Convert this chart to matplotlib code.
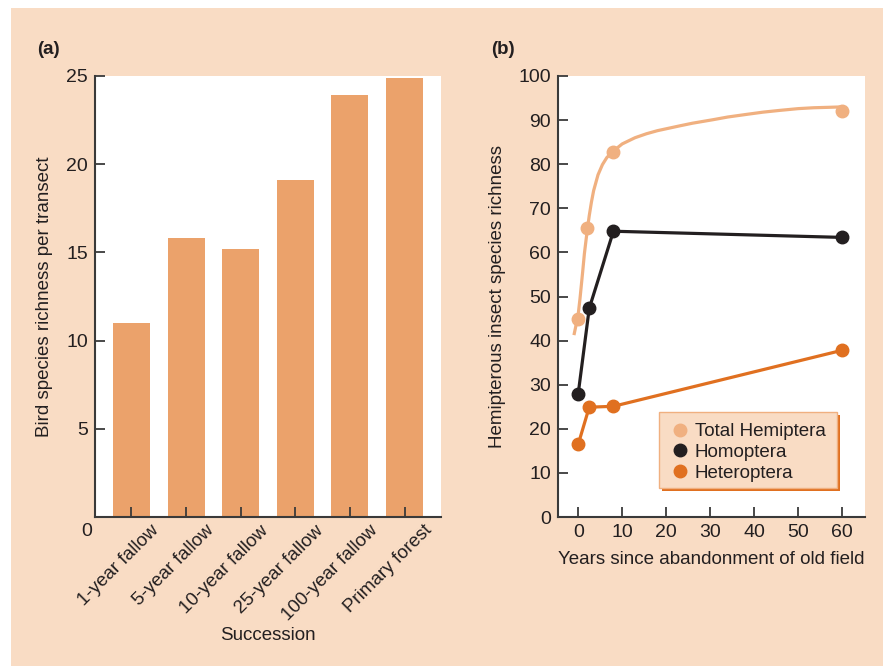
import matplotlib.pyplot as plt
import matplotlib.transforms as mtransforms
from matplotlib.lines import Line2D
from matplotlib.patches import Rectangle

# (a) bird species richness
succession = ["1-year fallow", "5-year fallow", "10-year fallow",
              "25-year fallow", "100-year fallow", "Primary forest"]
bird_richness = [11.0, 15.8, 15.2, 19.1, 23.9, 24.9]

# (b) hemipterous insects
years_total = [0, 2, 8, 60]
total_hemiptera = [44.8, 65.6, 82.8, 92.1]
# fitted curve for total hemiptera
curve_years = [-0.9, -0.5, 0.0, 0.4, 1.0, 1.4, 1.8, 2.1, 2.5, 3.0, 3.5, 4.5,
               5.5, 6.5, 8.0, 10.0, 12.9, 15.5, 18.0, 23.1, 26.0, 30.7, 34.0,
               38.3, 42.0, 45.8, 50.0, 53.5, 57.0, 60.1]
curve_total = [41.6, 43.5, 46.0, 49.5, 55.5, 59.7, 63.0, 65.4, 68.3, 71.4,
               74.0, 77.6, 79.9, 81.5, 83.0, 84.6, 86.0, 86.9, 87.6, 88.7,
               89.3, 90.1, 90.7, 91.3, 91.8, 92.2, 92.6, 92.8, 92.9, 93.0]
years = [0, 2.5, 8, 60]
homoptera = [28.0, 47.3, 64.8, 63.4]
heteroptera = [16.5, 24.9, 25.1, 37.8]

BG = "#F9DCC4"
BAR = "#EBA26B"
LIGHT = "#F0B080"
DARK = "#231F20"
ORANGE = "#E07020"
SPINE = "#3A3A3A"

FS = 13.5

plt.rcParams["font.family"] = ["Liberation Sans", "DejaVu Sans"]
plt.rcParams["text.color"] = DARK
plt.rcParams["axes.labelcolor"] = DARK
plt.rcParams["xtick.color"] = SPINE
plt.rcParams["ytick.color"] = SPINE
plt.rcParams["xtick.labelcolor"] = DARK
plt.rcParams["ytick.labelcolor"] = DARK

W, H = 883, 666
fig = plt.figure(figsize=(W / 100, H / 100), dpi=100, facecolor="white")
fig.patches.append(Rectangle((11 / W, 0), 1, 1 - 8 / H, transform=fig.transFigure,
                             facecolor=BG, edgecolor="none", zorder=-10))


def style(ax):
    for s in ["top", "right"]:
        ax.spines[s].set_visible(False)
    for s in ["left", "bottom"]:
        ax.spines[s].set_color(SPINE)
        ax.spines[s].set_linewidth(1.5)
    ax.tick_params(direction="in", length=7.5, width=1.3, pad=5, labelsize=14)


# ---- panel (a)
ax1 = fig.add_axes([95 / W, 1 - 517 / H, 346 / W, 441 / H])
style(ax1)
xs = list(range(len(succession)))
ax1.bar(xs, bird_richness, width=0.68, color=BAR)
ax1.set_xlim(-0.668, 5.668)
ax1.set_ylim(0, 25)
ax1.set_yticks([0, 5, 10, 15, 20, 25])
ax1.set_yticklabels(["", "5", "10", "15", "20", "25"])
ax1.text(-0.023, -0.034, "0", transform=ax1.transAxes, ha="center", va="center", fontsize=14)
ax1.set_xticks(xs)
ax1.set_xticklabels(succession, rotation=45, ha="right", va="center",
                    rotation_mode="anchor", fontsize=FS)
off = mtransforms.ScaledTranslation(0.25, -0.04, fig.dpi_scale_trans)
for lab in ax1.get_xticklabels():
    lab.set_transform(lab.get_transform() + off)
ax1.set_ylabel("Bird species richness per transect", fontsize=FS)
ax1.yaxis.label.set_va("center")
ax1.yaxis.set_label_coords((45 - 95) / 346, 0.5)
ax1.set_xlabel("Succession", fontsize=FS)
ax1.xaxis.label.set_va("center")
ax1.xaxis.set_label_coords(0.5, (517 - 635) / 441)

# ---- panel (b)
ax2 = fig.add_axes([558 / W, 1 - 517 / H, 307 / W, 441 / H])
style(ax2)
ax2.plot(curve_years, curve_total, color=LIGHT, lw=2.3, zorder=2,
         solid_joinstyle="round")
ax2.plot(years_total, total_hemiptera, "o", color=LIGHT, ms=9, zorder=3)
ax2.plot(years, homoptera, "-o", color=DARK, lw=2.3, ms=9, zorder=3)
ax2.plot(years, heteroptera, "-o", color=ORANGE, lw=2.3, ms=9, zorder=3)
ax2.set_xlim(-4.6, 65.2)
ax2.set_ylim(0, 100)
ax2.set_xticks(range(0, 61, 10))
ax2.set_yticks(range(0, 101, 10))
ax2.set_ylabel("Hemipterous insect species richness", fontsize=FS)
ax2.yaxis.label.set_va("center")
ax2.yaxis.set_label_coords((497 - 558) / 307, 0.5)
ax2.set_xlabel("Years since abandonment of old field", fontsize=FS)
ax2.xaxis.label.set_va("center")
ax2.xaxis.set_label_coords(0.5, (517 - 560) / 441)

# legend box with orange drop shadow
bx, by = (659 - 558) / 307, (517 - 488) / 441
bw, bh = (837 - 659) / 307, (488 - 411.7) / 441
ax2.add_patch(Rectangle((bx + 3 / 307, by - 3 / 441), bw, bh, transform=ax2.transAxes,
                        facecolor=ORANGE, edgecolor="none", zorder=4))
ax2.add_patch(Rectangle((bx, by), bw, bh, transform=ax2.transAxes,
                        facecolor=BG, edgecolor=LIGHT, lw=1, zorder=5))
handles = [Line2D([], [], ls="none", marker="o", ms=9, color=c) for c in (LIGHT, DARK, ORANGE)]
leg = ax2.legend(handles, ["Total Hemiptera", "Homoptera", "Heteroptera"],
                 loc="upper left", bbox_to_anchor=(bx, by + bh), frameon=False,
                 fontsize=FS, handlelength=1.0, handletextpad=0.3,
                 labelspacing=0.2, borderpad=0.6, borderaxespad=0)
leg.set_zorder(6)

fig.text(37 / W, 1 - 50 / H, "(a)", fontsize=FS, fontweight="bold", ha="left", va="center")
fig.text(491 / W, 1 - 50 / H, "(b)", fontsize=FS, fontweight="bold", ha="left", va="center")

fig.savefig("out.png", dpi=100, facecolor=fig.get_facecolor())
